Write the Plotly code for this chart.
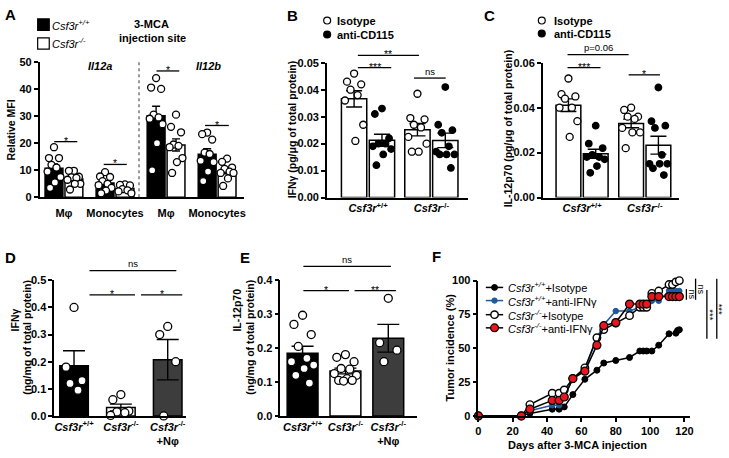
import numpy as np
import plotly.graph_objects as go

W, H = 729, 458
FONT = "Liberation Sans, Arial, Helvetica, sans-serif"

# ---------------- DATA ----------------
# Panel A: relative MFI, 3-MCA injection site
A_cats = ["Mφ", "Monocytes", "Mφ", "Monocytes"]
A_wt = [[18.5, 14.5, 14.5, 12, 11, 9.5, 7.5, 5.5, 3.5],
        [9.3, 7.7, 7.5, 6, 5, 4.5, 3.5, 2.5, 1.5],
        [44, 40.5, 40, 30.5, 29.5, 29, 27, 20, 10],
        [23.9, 23.3, 21.3, 16.5, 16, 13.5, 13, 9.5, 6]]
A_ko = [[9.8, 9.8, 7.6, 7.4, 7.2, 6.5, 5, 5, 2.9],
        [4.8, 4.6, 4.4, 3, 2.6, 2.2, 1.5],
        [30.5, 26, 24, 19.5, 19, 18.5, 14.5, 13, 9],
        [14.3, 13.1, 11, 10.5, 9.5, 9, 9, 7, 4.2]]

# Panel B: IFNg (pg/ug of total protein)
BC_cats = ["<i>Csf3r</i><sup>+/+</sup>", "<i>Csf3r</i><sup>-/-</sup>"]
B_iso = [[0.046, 0.043, 0.042, 0.040, 0.038, 0.036, 0.027, 0.021],
         [0.0385, 0.0295, 0.029, 0.027, 0.026, 0.0225, 0.020, 0.017, 0.017]]
B_cd115 = [[0.033, 0.031, 0.022, 0.020, 0.020, 0.019, 0.018, 0.016, 0.012],
           [0.041, 0.027, 0.025, 0.024, 0.019, 0.017, 0.016, 0.016, 0.016, 0.011]]

# Panel C: IL-12p70 (pg/ug of total protein)
C_iso = [[0.053, 0.046, 0.045, 0.044, 0.040, 0.040, 0.034, 0.027],
         [0.040, 0.039, 0.036, 0.036, 0.035, 0.031, 0.029, 0.029, 0.022]]
C_cd115 = [[0.032, 0.024, 0.022, 0.019, 0.018, 0.018, 0.017, 0.014, 0.011],
           [0.049, 0.034, 0.032, 0.031, 0.019, 0.015, 0.015, 0.015, 0.013, 0.010]]

# Panels D, E
DE_cats = ["<i>Csf3r</i><sup>+/+</sup>", "<i>Csf3r</i><sup>-/-</sup>",
           "<i>Csf3r</i><sup>-/-</sup><br>+Nφ"]
D_vals = [[0.40, 0.18, 0.13, 0.12, 0.095],
          [0.079, 0.06, 0.018, 0.015, 0.012, 0.002],
          [0.33, 0.30, 0.20, 0.0]]
E_vals = [[0.297, 0.27, 0.24, 0.205, 0.17, 0.16, 0.15, 0.14, 0.12, 0.097],
          [0.181, 0.173, 0.16, 0.14, 0.138, 0.125, 0.12, 0.11, 0.105, 0.105, 0.103],
          [0.347, 0.216, 0.194, 0.16]]

# Panel F: tumor incidence (%)
F_names = ["<i>Csf3r<sup>+/+</sup></i>+Isotype", "<i>Csf3r<sup>+/+</sup></i>+anti-IFNγ",
           "<i>Csf3r<sup>-/-</sup></i>+Isotype", "<i>Csf3r<sup>-/-</sup></i>+anti-IFNγ"]
F_wt_iso_days = [0, 25, 30, 43, 47, 50, 55, 62, 69, 73, 80, 88, 94, 96, 98, 101, 105, 111, 115, 116, 117]
F_wt_iso_pct = [0, 0, 1.9, 5.0, 5.0, 6.7, 15.8, 27.1, 33.8, 39.1, 41, 43.2, 48, 48, 48, 48, 52.3, 60.7, 61.2, 63.2, 63.7]
F_wt_ifn_days = [0, 25, 30, 43, 47, 50, 55, 62, 69, 73, 80, 88, 94, 96, 98, 101, 105, 111, 113, 115, 117]
F_wt_ifn_pct = [0, 0, 3.8, 7.9, 7.9, 14.6, 27.6, 34.3, 57.8, 67.4, 77.5, 77.5, 80.3, 80.3, 80.3, 85.1, 85.1, 92.3, 92.3, 92.3, 92.3]
F_ko_iso_days = [0, 25, 30, 43, 47, 50, 55, 62, 69, 73, 80, 88, 94, 96, 98, 101, 105, 111, 113, 115, 117]
F_ko_iso_pct = [0, 0, 8.4, 16.8, 16.8, 19.2, 27.6, 35.5, 57.8, 63.8, 68.6, 74.1, 80.3, 80.3, 80.3, 90.6, 92.3, 97.1, 97.1, 99, 100]
F_ko_ifn_days = [0, 25, 30, 43, 47, 50, 55, 62, 69, 73, 80, 88, 94, 96, 98, 101, 105, 111, 113, 115, 117]
F_ko_ifn_pct = [0, 0, 5, 11.5, 11.5, 14, 27.6, 33.1, 52.3, 66.7, 69, 82.7, 82.7, 82.7, 82.7, 88.2, 88.2, 88.2, 88.2, 88.2, 88.2]

# ---------------- HELPERS ----------------
def px(x):
    return x / W


def py(y):
    return 1 - y / H


def mean_sem(v):
    a = np.asarray(v, float)
    return a.mean(), a.std(ddof=1) / np.sqrt(len(a))


JIT = [0.0, -0.28, 0.28, -0.14, 0.14, -0.36, 0.36, 0.05, -0.22, 0.22, -0.06]
GRAY = "#3d3d3d"
BLUE = "#1f5a9e"
RED = "#e8161d"

fig = go.Figure()


def bar_group(n, groups, offset, width, fill, cap, pt_fill, pt_size=7):
    xa, ya = ("x", "y") if n == 1 else (f"x{n}", f"y{n}")
    idx = list(range(len(groups)))
    ms = [mean_sem(g) for g in groups]
    fig.add_trace(go.Bar(
        x=idx, y=[m for m, s in ms], offset=offset, width=width,
        marker=dict(color=fill, line=dict(color="black", width=1.5)),
        error_y=dict(type="data", array=[s for m, s in ms], color="black",
                     thickness=1.4, width=cap),
        xaxis=xa, yaxis=ya, showlegend=False, hoverinfo="y"))
    xs, ys = [], []
    for i, g in zip(idx, groups):
        for j, v in enumerate(g):
            xs.append(i + offset + width / 2 + JIT[j % len(JIT)] * width)
            ys.append(v)
    fig.add_trace(go.Scatter(
        x=xs, y=ys, mode="markers", cliponaxis=False,
        marker=dict(symbol="circle", size=pt_size, color=pt_fill,
                    line=dict(color="black", width=1.3)),
        xaxis=xa, yaxis=ya, showlegend=False, hoverinfo="y"))


# A
bar_group(1, A_wt, -0.37, 0.35, "black", 4, "white")
bar_group(1, A_ko, 0.02, 0.35, "white", 4, "white")
# B
bar_group(2, B_iso, -0.42, 0.40, "white", 8, "white")
bar_group(2, B_cd115, 0.02, 0.40, "white", 8, "black", 6.5)
# C
bar_group(3, C_iso, -0.415, 0.395, "white", 8, "white")
bar_group(3, C_cd115, 0.02, 0.395, "white", 8, "black", 6.5)
# D
bar_group(4, D_vals, -0.305, 0.61, ["black", "white", GRAY], 11, "white", 8)
# E
bar_group(5, E_vals, -0.36, 0.72, ["black", "white", GRAY], 11, "white", 8)

# F
F_series = [
    (F_wt_iso_days, F_wt_iso_pct, "black", dict(size=6, color="black", line=dict(color="black", width=1))),
    (F_wt_ifn_days, F_wt_ifn_pct, BLUE, dict(size=5.5, color=BLUE, line=dict(color=BLUE, width=1))),
    (F_ko_iso_days, F_ko_iso_pct, "black", dict(size=7.5, color="white", line=dict(color="black", width=1.4))),
    (F_ko_ifn_days, F_ko_ifn_pct, "black", dict(size=8, color=RED, line=dict(color="black", width=1.2))),
]
for (d, p, lc, mk), nm in zip(F_series, F_names):
    fig.add_trace(go.Scatter(x=d, y=p, mode="lines+markers", name=nm, cliponaxis=False,
                             line=dict(color=lc, width=1.5), marker=dict(symbol="circle", **mk),
                             xaxis="x6", yaxis="y6", showlegend=False))

# ---------------- AXES ----------------
TF = dict(family=FONT, size=11, color="black", weight="bold")


def yax(dom, rng, dtick, fmt, anchor):
    return dict(domain=[py(dom[0]), py(dom[1])], range=rng, dtick=dtick, tickformat=fmt,
                showline=True, linecolor="black", linewidth=1.5, ticks="outside", ticklen=4,
                tickwidth=1.5, tickcolor="black", showgrid=False, zeroline=False,
                tickfont=TF, anchor=anchor, fixedrange=True)


def xcat(dom, rng, labels, anchor, standoff=0):
    return dict(domain=[px(dom[0]), px(dom[1])], range=rng, tickmode="array",
                tickvals=list(range(len(labels))), ticktext=labels, showline=True,
                linecolor="black", linewidth=1.5, ticks="", showgrid=False, zeroline=False,
                tickfont=TF, anchor=anchor, fixedrange=True, ticklabelstandoff=standoff)


layout_axes = dict(
    xaxis=xcat((37, 243), [-0.476, 3.52], A_cats, "y", 5),
    yaxis=yax((196.5, 57.3), [0, 50], 10, "d", "x"),
    xaxis2=xcat((327, 470), [-0.65, 1.586], BC_cats, "y2"),
    yaxis2=yax((196.7, 58.3), [0, 0.05], 0.01, ".2f", "x2"),
    xaxis3=xcat((545, 683), [-0.627, 1.553], BC_cats, "y3"),
    yaxis3=yax((196.7, 58.3), [0, 0.06], 0.02, ".2f", "x3"),
    xaxis4=xcat((51.7, 185), [-0.423, 2.395], DE_cats, "y4"),
    yaxis4=yax((421, 281.7), [0, 0.5], 0.1, ".1f", "x4"),
    xaxis5=xcat((280, 418), [-0.52, 2.67], DE_cats, "y5"),
    yaxis5=yax((421, 281.7), [0, 0.4], 0.1, ".1f", "x5"),
    xaxis6=dict(domain=[px(480), px(693.3)], range=[0, 123], dtick=20, showline=True,
                linecolor="black", linewidth=1.5, ticks="outside", ticklen=4, tickwidth=1.5,
                tickcolor="black", showgrid=False, zeroline=False, tickfont=TF,
                anchor="y6", fixedrange=True),
    yaxis6=yax((421, 282), [0, 100], 25, "d", "x6"),
)

# ---------------- ANNOTATIONS / SHAPES ----------------
ann, shp = [], []


def txt(x, y, s, size=11, xanchor="center", yanchor="middle", angle=0):
    ann.append(dict(xref="paper", yref="paper", x=px(x), y=py(y), text=s, showarrow=False,
                    xanchor=xanchor, yanchor=yanchor, textangle=angle, borderpad=0,
                    font=dict(family=FONT, size=size, color="black")))


def hline(x1, x2, y, w=1.3):
    shp.append(dict(type="line", xref="paper", yref="paper", x0=px(x1), x1=px(x2),
                    y0=py(y), y1=py(y), line=dict(color="black", width=w)))


def sig(x1, x2, y, label):
    hline(x1, x2, y)
    if "*" in label:
        txt((x1 + x2) / 2, y - 1, label, size=10.5)
    else:
        txt((x1 + x2) / 2, y - 0.5, label, size=9.5, yanchor="bottom")


def vsig(x, y1, y2, label, xt):
    shp.append(dict(type="line", xref="paper", yref="paper", x0=px(x), x1=px(x),
                    y0=py(y1), y1=py(y2), line=dict(color="black", width=1.3)))
    txt(xt, (y1 + y2) / 2, label, size=9 if "*" not in label else 9.5, angle=90)


# panel letters
for L, x, y in [("A", 7.5, 9), ("B", 292, 10), ("C", 491, 10),
                ("D", 7.5, 258), ("E", 244.5, 258), ("F", 437.5, 257)]:
    txt(x, y, f"<b>{L}</b>", size=15)

# A decorations
shp.append(dict(type="rect", xref="paper", yref="paper", x0=px(35), x1=px(46.7), y0=py(25),
                y1=py(13.3), fillcolor="black", line=dict(color="black", width=1.2)))
shp.append(dict(type="rect", xref="paper", yref="paper", x0=px(35), x1=px(46.7), y0=py(44.3),
                y1=py(32.7), fillcolor="white", line=dict(color="black", width=1.2)))
txt(48.5, 19, "<i>Csf3r<sup>+/+</sup></i>", xanchor="left")
txt(48.5, 38.5, "<i>Csf3r<sup>-/-</sup></i>", xanchor="left")
txt(150, 18.3, "<b>3-MCA</b>")
txt(151, 33.3, "<b>injection site</b>")
txt(97.5, 61.7, "<b><i>Il12a</i></b>")
txt(207, 61.7, "<b><i>Il12b</i></b>")
shp.append(dict(type="line", xref="x", yref="paper", x0=1.47, x1=1.47, y0=py(196.5), y1=py(57.3),
                line=dict(color="#555555", width=1.2, dash="dot")))
txt(8, 127, "<b>Relative MFI</b>", size=10.5, angle=-90)
sig(51.7, 75, 139.3, "*")
sig(101.7, 125, 162.7, "*")
sig(155, 178, 66.7, "*")
sig(204, 228, 122.7, "*")

# B decorations
for (cx, cy, fill) in [(327.3, 15, "white"), (327.3, 29.3, "black")]:
    shp.append(dict(type="circle", xref="paper", yref="paper", x0=px(cx - 3.5), x1=px(cx + 3.5),
                    y0=py(cy + 3.5), y1=py(cy - 3.5), fillcolor=fill,
                    line=dict(color="black", width=1.2)))
txt(336.7, 15, "<b>Isotype</b>", xanchor="left")
txt(336.7, 29.3, "<b>anti-CD115</b>", xanchor="left")
txt(291.5, 127, "<b>IFNγ (pg/μg of total protein)</b>", size=10.5, angle=-90)
sig(358.3, 420, 50.7, "**")
sig(358.3, 392, 63.3, "***")
sig(415, 447, 74, "ns")

# C decorations
for (cx, cy, fill) in [(544, 15, "white"), (544, 28.3, "black")]:
    shp.append(dict(type="circle", xref="paper", yref="paper", x0=px(cx - 3.5), x1=px(cx + 3.5),
                    y0=py(cy + 3.5), y1=py(cy - 3.5), fillcolor=fill,
                    line=dict(color="black", width=1.2)))
txt(555, 15, "<b>Isotype</b>", xanchor="left")
txt(555, 28.3, "<b>anti-CD115</b>", xanchor="left")
txt(509.5, 126, "<b>IL-12p70 (pg/μg of total protein)</b>", size=10.5, angle=-90)
sig(570, 631.7, 50, "p=0.06")
sig(570, 603.3, 63.3, "***")
sig(631.7, 663.3, 70.7, "*")

# D decorations
txt(12, 322, "<b>IFNγ</b>", size=10.5, angle=-90)
txt(24, 340, "<b>(ng/mg of total protein)</b>", size=10.5, angle=-90)
sig(87.3, 175, 271.7, "ns")
sig(87.3, 133.3, 296.7, "*")
sig(139.3, 181, 296.7, "*")

# E decorations
txt(236, 312, "<b>IL-12p70</b>", size=10.5, angle=-90)
txt(249, 340, "<b>(ng/mg of total protein)</b>", size=10.5, angle=-90)
sig(303.3, 391.7, 267.3, "ns")
sig(303.3, 349.3, 292.3, "*")
sig(355, 396.7, 292.3, "**")

# F decorations
txt(451, 351, "<b>Tumor incidence (%)</b>", size=11, angle=-90)
txt(580, 451, "<b>Days after 3-MCA injection</b>", size=11)
leg_y = [289, 302.5, 317, 330.5]
for (d, p, lc, mk), nm, yy in zip(F_series, F_names, leg_y):
    hline(487.5, 505, yy, w=1.5)
    shp[-1]["line"]["color"] = lc
    r = mk["size"] / 2
    shp.append(dict(type="circle", xref="paper", yref="paper", x0=px(496.3 - r), x1=px(496.3 + r),
                    y0=py(yy + r), y1=py(yy - r), fillcolor=mk["color"],
                    line=dict(color=mk["line"]["color"], width=mk["line"]["width"])))
    txt(508.5, yy, nm, xanchor="left")
vsig(690, 290.7, 301.7, "ns", 695.5)
vsig(699.3, 280, 301.7, "ns", 704.5)
vsig(710.7, 291.7, 341.7, "***", 714)
vsig(720.7, 280, 341.7, "***", 723)

fig.update_layout(
    width=W, height=H, margin=dict(l=0, r=0, t=0, b=0),
    paper_bgcolor="white", plot_bgcolor="white", barmode="overlay",
    font=dict(family=FONT, color="black"), annotations=ann, shapes=shp,
    showlegend=False, **layout_axes)

fig.write_html("out.html", config={"displayModeBar": False},
               post_script="document.body.style.margin='0';document.body.style.padding='0';"
                           "document.body.style.overflow='hidden';")
